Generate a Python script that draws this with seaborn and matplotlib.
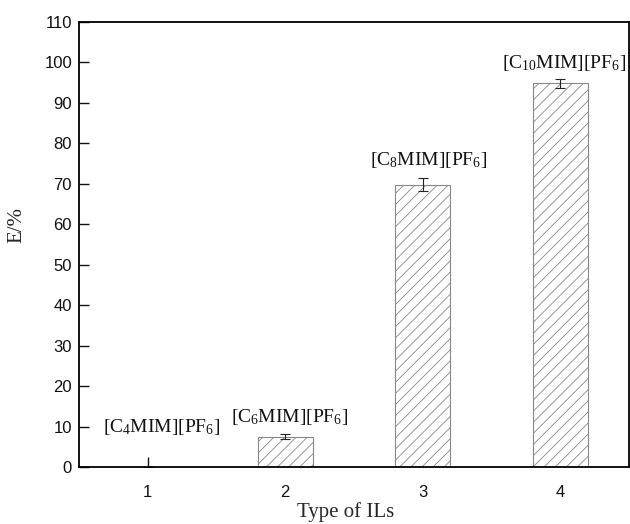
import matplotlib
matplotlib.use("Agg")
import matplotlib.pyplot as plt
import seaborn as sns
import pandas as pd

categories = ["1", "2", "3", "4"]
values = [0.0, 7.5, 69.8, 94.8]
errors = [0.0, 0.6, 1.6, 1.0]
bar_labels = [r"[C$_4$MIM][PF$_6$]", r"[C$_6$MIM][PF$_6$]",
              r"[C$_8$MIM][PF$_6$]", r"[C$_{10}$MIM][PF$_6$]"]
label_x = [0.10, 1.03, 2.044, 3.03]
label_y = [8.65, 11.2, 74.7, 98.6]
yticks = list(range(0, 111, 10))

sns.set_theme(style="ticks")
plt.rcParams["mathtext.fontset"] = "custom"
plt.rcParams["mathtext.rm"] = "Liberation Serif"
plt.rcParams["mathtext.it"] = "Liberation Serif"
plt.rcParams["hatch.color"] = "#555555"
plt.rcParams["hatch.linewidth"] = 0.6

df = pd.DataFrame({"Type": categories, "E": values})

fig = plt.figure(figsize=(6.3, 5.24), dpi=100)
ax = fig.add_axes([79 / 630, 57 / 524, 550 / 630, 445 / 524])
sns.barplot(data=df, x="Type", y="E", ax=ax, width=0.4, color="white",
            edgecolor="#888888", linewidth=0.8, errorbar=None)
for p in ax.patches:
    p.set_hatch("///")

ax.errorbar(x=range(len(categories)), y=values, yerr=errors, fmt="none",
            ecolor="#222222", elinewidth=0.8, capsize=3.5, capthick=0.8)

for lx, ly, lab in zip(label_x, label_y, bar_labels):
    ax.text(lx, ly, lab, ha="center", va="baseline", fontsize=14,
            family="Liberation Serif", color="#111111")

ax.set_xlim(-0.5, 3.5)
ax.set_ylim(0, 110)
ax.set_yticks(yticks)
ax.set_xticks(range(len(categories)))
ax.set_xticklabels(categories)
ax.tick_params(direction="in", length=7, width=1.0, labelsize=12,
               colors="#111111")
ax.tick_params(axis="y", pad=5)
ax.tick_params(axis="x", pad=13)
for lbl in ax.get_xticklabels() + ax.get_yticklabels():
    lbl.set_family("Liberation Sans")
for s in ax.spines.values():
    s.set_linewidth(1.3)
    s.set_color("black")
    s.set_visible(True)

ax.set_xlabel("Type of ILs", family="Liberation Serif", fontsize=15)
ax.set_ylabel("E/%", family="Liberation Serif", fontsize=15)
ax.xaxis.set_label_coords(0.485, -0.078)
ax.yaxis.set_label_coords(-0.095, 0.544)

fig.savefig("out.png", dpi=100)
